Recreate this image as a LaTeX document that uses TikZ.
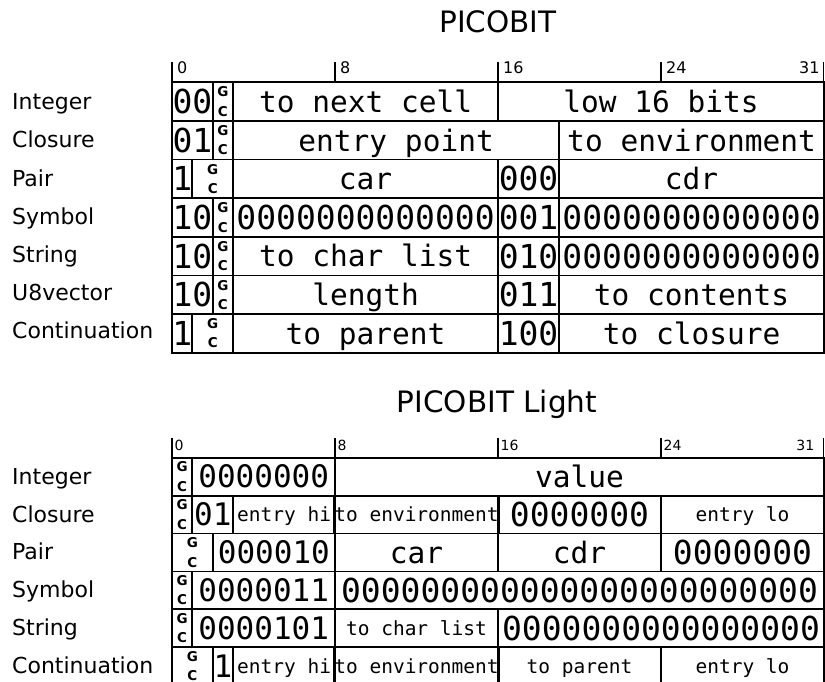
\documentclass[tikz,border=0pt]{standalone}
\usepackage{fontspec}
\setmainfont{DejaVu Sans}
\setmonofont{DejaVu Sans Mono}
\newcommand\pbw{20.375}
\newcommand\mTT{82.3}
\newcommand\mTH{38.63}
\newcommand\mBT{457.7}
\newcommand\mBH{37.9}
\tikzset{
  cellbox/.style={draw, line width=1.8pt, rectangle, inner sep=0pt, outer sep=0pt},
  rowlabel/.style={anchor=base west, inner sep=0pt, font=\fontsize{22}{26}\selectfont},
  titletext/.style={anchor=base, inner sep=0pt, font=\fontsize{29.5}{34}\selectfont},
  ticklbl/.style={inner sep=0pt},
  tickline/.style={line width=1.3pt}
}
% generic cell: name, bit0, bit1, ycenter, height, fontsize, text
\newcommand\mycell[7]{\node[cellbox, minimum width={(#3-(#2))*\pbw*1pt}, minimum height={#5*1pt},
  text height={0.73*#6*1pt}, text depth=0pt, font={\fontsize{#6}{#6}\selectfont\ttfamily}]
  (#1) at ({172+(#2+#3)/2*\pbw},{#4}) {#7};}
\newcommand\mygc[5]{\node[cellbox, minimum width={(#3-(#2))*\pbw*1pt}, minimum height={#5*1pt},
  align=center, font={\fontsize{13.5}{19.3}\selectfont\bfseries}]
  (#1) at ({172+(#2+#3)/2*\pbw},{#4}) {G\\C};}
% top table cell: name, b0, b1, row, size, text
\newcommand\tcellA[6]{\mycell{#1}{#2}{#3}{\mTT+(#4+0.5)*\mTH}{\mTH}{#5}{#6}}
\newcommand\tgcA[4]{\mygc{#1}{#2}{#3}{\mTT+(#4+0.5)*\mTH}{\mTH}}
\newcommand\bcellA[6]{\mycell{#1}{#2}{#3}{\mBT+(#4+0.5)*\mBH}{\mBH}{#5}{#6}}
\newcommand\bgcA[4]{\mygc{#1}{#2}{#3}{\mBT+(#4+0.5)*\mBH}{\mBH}}
\begin{document}
\begin{tikzpicture}[x=1pt,y=-1pt]
\useasboundingbox (0,0) rectangle (825,682);

% titles
\node[titletext] (title1) at (498,32.8) {PICOBIT};
\node[titletext] (title2) at (497,412.8) {PICOBIT Light};

% ---------- top table ticks ----------
\foreach \b/\l in {0/0,8/8,16/16,24/24}{
  \draw[tickline] ({172+\b*\pbw},62) -- ({172+\b*\pbw},\mTT);
  \node[ticklbl, anchor=base west, font=\fontsize{16}{18}\selectfont] (tt\b) at ({172+\b*\pbw+5},73.3) {\l};
}
\draw[tickline] (823.3,62) -- (823.3,\mTT);
\node[ticklbl, anchor=base east, font=\fontsize{16}{18}\selectfont] (tt31) at (819.8,73.3) {31};

% ---------- top table labels ----------
\foreach \r/\t in {0/Integer,1/Closure,2/Pair,3/Symbol,4/String,5/U8vector,6/Continuation}{
  \node[rowlabel] (tl\r) at (12,{\mTT+(\r+0.5)*\mTH+8-0.4*\r}) {\t};
}

% ---------- top table cells ----------
% Integer
\tcellA{a00}{0}{2}{0}{33}{00}
\tgcA{a01}{2}{3}{0}
\tcellA{a02}{3}{16}{0}{29.5}{to next cell}
\tcellA{a03}{16}{32}{0}{29.5}{low 16 bits}
% Closure
\tcellA{a10}{0}{2}{1}{33}{01}
\tgcA{a11}{2}{3}{1}
\tcellA{a12}{3}{19}{1}{29.5}{entry point}
\tcellA{a13}{19}{32}{1}{29.5}{to environment}
% Pair
\tcellA{a20}{0}{1}{2}{33}{1}
\tgcA{a21}{1}{3}{2}
\tcellA{a22}{3}{16}{2}{29.5}{car}
\tcellA{a23}{16}{19}{2}{33}{000}
\tcellA{a24}{19}{32}{2}{29.5}{cdr}
% Symbol
\tcellA{a30}{0}{2}{3}{33}{10}
\tgcA{a31}{2}{3}{3}
\tcellA{a32}{3}{16}{3}{33}{0000000000000}
\tcellA{a33}{16}{19}{3}{33}{001}
\tcellA{a34}{19}{32}{3}{33}{0000000000000}
% String
\tcellA{a40}{0}{2}{4}{33}{10}
\tgcA{a41}{2}{3}{4}
\tcellA{a42}{3}{16}{4}{29.5}{to char list}
\tcellA{a43}{16}{19}{4}{33}{010}
\tcellA{a44}{19}{32}{4}{33}{0000000000000}
% U8vector
\tcellA{a50}{0}{2}{5}{33}{10}
\tgcA{a51}{2}{3}{5}
\tcellA{a52}{3}{16}{5}{29.5}{length}
\tcellA{a53}{16}{19}{5}{33}{011}
\tcellA{a54}{19}{32}{5}{29.5}{to contents}
% Continuation
\tcellA{a60}{0}{1}{6}{33}{1}
\tgcA{a61}{1}{3}{6}
\tcellA{a62}{3}{16}{6}{29.5}{to parent}
\tcellA{a63}{16}{19}{6}{33}{100}
\tcellA{a64}{19}{32}{6}{29.5}{to closure}

% ---------- bottom table ticks ----------
\foreach \b/\l in {0/0,8/8,16/16,24/24}{
  \draw[tickline] ({172+\b*\pbw},438.3) -- ({172+\b*\pbw},\mBT);
  \node[ticklbl, anchor=base west, font=\fontsize{14}{16}\selectfont] (bt\b) at ({172+\b*\pbw+2.5},450) {\l};
}
\draw[tickline] (823.3,438.3) -- (823.3,\mBT);
\node[ticklbl, anchor=base east, font=\fontsize{14}{16}\selectfont] (bt31) at (814.5,450) {31};

% ---------- bottom table labels ----------
\foreach \r/\t in {0/Integer,1/Closure,2/Pair,3/Symbol,4/String,5/Continuation}{
  \node[rowlabel] (bl\r) at (12,{\mBT+(\r+0.5)*\mBH+8-0.5}) {\t};
}

% ---------- bottom table cells ----------
% Integer
\bgcA{b00}{0}{1}{0}
\bcellA{b01}{1}{8}{0}{31}{0000000}
\bcellA{b02}{8}{32}{0}{29.5}{value}
% Closure
\bgcA{b10}{0}{1}{1}
\bcellA{b11}{1}{3}{1}{31}{01}
\bcellA{b12}{3}{8}{1}{19.5}{entry hi}
\bcellA{b13}{8}{16}{1}{19.5}{to environment}
\bcellA{b14}{16}{24}{1}{33}{0000000}
\bcellA{b15}{24}{32}{1}{19.5}{entry lo}
% Pair
\bgcA{b20}{0}{2}{2}
\bcellA{b21}{2}{8}{2}{31}{000010}
\bcellA{b22}{8}{16}{2}{29.5}{car}
\bcellA{b23}{16}{24}{2}{29.5}{cdr}
\bcellA{b24}{24}{32}{2}{33}{0000000}
% Symbol
\bgcA{b30}{0}{1}{3}
\bcellA{b31}{1}{8}{3}{31}{0000011}
\bcellA{b32}{8}{32}{3}{33}{000000000000000000000000}
% String
\bgcA{b40}{0}{1}{4}
\bcellA{b41}{1}{8}{4}{31}{0000101}
\bcellA{b42}{8}{16}{4}{19.5}{to char list}
\bcellA{b43}{16}{32}{4}{33}{0000000000000000}
% Continuation
\bgcA{b50}{0}{2}{5}
\bcellA{b51}{2}{3}{5}{31}{1}
\bcellA{b52}{3}{8}{5}{19.5}{entry hi}
\bcellA{b53}{8}{16}{5}{19.5}{to environment}
\bcellA{b54}{16}{24}{5}{19.5}{to parent}
\bcellA{b55}{24}{32}{5}{19.5}{entry lo}
\end{tikzpicture}
\end{document}
